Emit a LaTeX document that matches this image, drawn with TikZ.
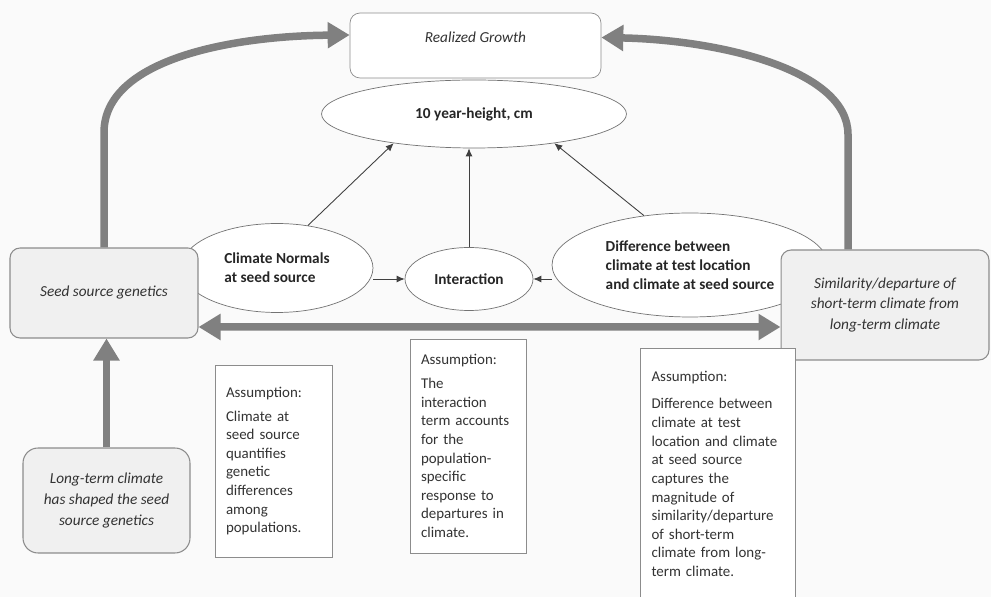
\documentclass[tikz,border=0pt]{standalone}
\usepackage{fontspec}
\setmainfont{Carlito}
\usetikzlibrary{arrows.meta,shapes.geometric}
\tikzset{
  fattip/.tip={Triangle[length=0.44cm,width=0.5cm]},
  growbox/.style={draw=black!45, fill=white, rounded corners=0.2cm, align=center, text=black!80, font=\fontsize{8.7}{11.8}\selectfont\itshape},
  climbox/.style={growbox, fill=black!6, line width=0.6pt},
  oval/.style={ellipse, draw=black!55, fill=white, text=black!85, font=\fontsize{8.7}{10.8}\selectfont\bfseries},
  note/.style={draw=black!45, fill=white, align=left, inner xsep=0.22cm, text=black!80, font=\fontsize{8.5}{10.6}\selectfont},
  fat/.style={draw=black!50, line width=0.15cm, -fattip},
  link/.style={draw=black!75, line width=0.5pt, -{Latex[length=0.16cm,width=0.14cm]}}
}

\begin{document}
\begin{tikzpicture}[x=0.02cm, y=-0.02cm]
			%%%%% START %%%%%
			\useasboundingbox (0, 0) rectangle (991, 597);
			\fill[black!2] (0, 0) rectangle (991, 597);
			
			\node[growbox, minimum width=5.02cm, minimum height=1.3cm, text depth=0.34cm] (grow) at (475.5, 45.5) {Realized Growth};
			\node[oval, minimum width=6.1cm, minimum height=1.36cm] (height) at (474, 114) {10 year-height, cm};
			
			\node[oval, minimum width=3.84cm, minimum height=1.78cm, align=left] (normals) at (277, 268) {Climate Normals\\at seed source};
			\node[oval, minimum width=2.56cm, minimum height=1.26cm] (inter) at (469, 279) {Interaction};
			\node[oval, minimum width=5.52cm, minimum height=2.08cm, align=left] (diff) at (690, 265) {Difference between\\climate at test location\\and climate at seed source};
			
			\node[climbox, minimum width=3.76cm, minimum height=1.8cm] (seed) at (104, 293) {Seed source genetics};
			\node[climbox, minimum width=4.16cm, minimum height=2.2cm] (simil) at (885, 305) {Similarity/departure of\\short-term climate from\\long-term climate};
			\node[climbox, minimum width=3.34cm, minimum height=2.1cm, rounded corners=0.3cm] (longterm) at (106.5, 500.5) {Long-term climate\\has shaped the seed\\source genetics};
			
			\node[note, text width=1.9cm, minimum height=3.84cm] (note1) at (273.5, 461) {Assumption:\\[3pt]Climate at\\seed source\\quantifies\\genetic\\differences\\among\\populations.};
			\node[note, text width=1.88cm, minimum height=4.28cm] (note2) at (468, 446) {Assumption:\\[3pt]The\\interaction\\term accounts\\for the\\population-\\specific\\response to\\departures in\\climate.};
			\node[note, text width=2.66cm, minimum height=5.04cm] (note3) at (718, 474) {Assumption:\\[5pt]Difference between\\climate at test\\location and climate\\at seed source\\captures the\\magnitude of\\similarity/departure\\of short-term\\climate from long-\\term climate.};
			
			% thick grey arrows
			\draw[fat] (seed.north) -- ++(0, -115) .. controls (104, 60) and (230, 36) .. ([yshift=0.21cm]grow.west);
			\draw[fat] ([xshift=-0.74cm]simil.north) -- ++(0, -115) .. controls (848, 70) and (720, 40) .. ([yshift=0.16cm]grow.east);
			\draw[fat, fattip-fattip] ([yshift=-0.68cm]seed.east) -- ([yshift=-0.44cm]simil.west);
			\draw[fat] (longterm.north) -- (longterm.north |- seed.south);
			
			% thin black arrows
			\draw[link] (normals.54) -- (height.200);
			\draw[link] (inter.north) -- (inter.north |- height.south);
			\draw[link] (diff.133) -- (height.340);
			\draw[link] (normals.east |- inter.west) -- (inter.west);
			\draw[link] (diff.west |- inter.east) -- (inter.east);
			%%%%% END %%%%%
		\end{tikzpicture}
\end{document}
